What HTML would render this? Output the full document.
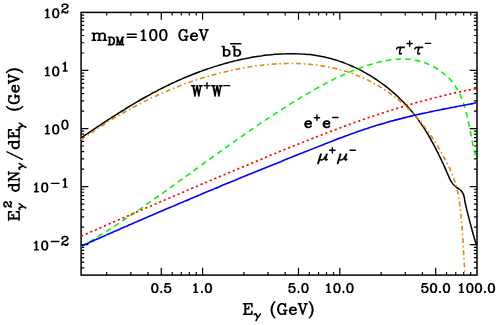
<!DOCTYPE html>
<html><head><meta charset="utf-8"><title>gamma-ray spectra</title>
<style>html,body{margin:0;padding:0;background:#fff;font-family:"Liberation Sans",sans-serif}svg{display:block}</style></head>
<body>
<svg width="498" height="325" viewBox="0 0 498 325">
<rect width="498" height="325" fill="#fff"/>
<defs>
<path id="g30" vector-effect="non-scaling-stroke" d="M11.5,-0.25 11.75,-0.25 12,-0.25 14,-1 16,-4 17,-9 17,-12 16,-17 14,-20 12,-20.75 12,-20.5 13,-20 14,-19 15,-17 16,-12 16,-9 15,-4 14,-2 13,-1 12,-0.5 12,-0.25M8.25,-0.25 8.5,-0.25M8.25,-0.25 8.25,-0.5 7,-1 6,-2 5,-4 4,-9 4,-12 5,-17 6,-19 7,-20 8.25,-20.5 8.25,-20.75 6,-20 4,-17 3,-12 3,-9 4,-4 6,-1 8.25,-0.25M12,-20.75 11.75,-20.75 11.5,-20.75M14,-20 11,-21 9,-21 7,-20M14,-1 11,0 13,-1M16,-12 15,-16.75 14,-19M13,-20 11,-21M8.25,-20.75 8.5,-20.75M7,-1 9,0 11,0M6,-1 9,0M6,-20 9,-21"/>
<path id="g31" vector-effect="non-scaling-stroke" d="M11,-21 11,0 10,0 10,-20 11,-21 8,-18 6,-17M11,0 15,0 6,0 10,0M10,-20 8,-18"/>
<path id="g32" vector-effect="non-scaling-stroke" d="M16,-1 17,-2.75 16.75,-2.75 16,-2 14,-1 11,-1 6.75,-2.75 6.5,-2.75 11,0 15,0 16,-1 17,-3 17,-5M11,0 6,-3 4,-3 3,-2 3,0 3,-3 4,-6 6,-8 12,-11 9.5,-9.75 9.5,-9.5 9.25,-9.5 9,-9.5M6.5,-2.75 6.25,-2.75M11,-1 6,-3M16,-2 17,-3M9.5,-9.5 13,-11 16,-13 17,-15 17,-17 16,-19 15,-20 13,-20.75 12.75,-20.5 14,-20 15,-19 16,-17 16,-15 15,-13 12,-11M15,-20 12,-21 8,-21 5,-20 4,-19 3,-17 3,-16 4,-15 5,-16 4,-17M13,-11 8.25,-9 6,-8M14,-20 12,-21M13,-20.75 12.75,-20.75 12.5,-20.75M3,-3 3,-2"/>
<path id="g35" vector-effect="non-scaling-stroke" d="M11.5,-0.25 11.75,-0.25 12,-0.25 14,-1 16,-3 17,-6 17,-8 16,-11 14,-13 12,-13.75 12,-13.5 13,-13 15,-11 16,-8 16,-6 15,-3 13,-1 12,-0.5 12,-0.25M12,-13.75 11.75,-13.75 11.5,-13.75M14,-13 11,-14 8,-14 5,-13 3,-11 5,-21 5,-20.75 3,-11.5 3,-11M14,-1 11,0 13,-1M13,-13 11,-14M11,0 8,0 5,-1 4,-2 3,-4 3,-5 4,-6 5,-5 4,-4M10,-20 14.5,-21 5,-21 15,-21 10,-20 5,-20"/>
<path id="g2e" vector-effect="non-scaling-stroke" d="M5,-2 6,-1 5,0 4,-1 5,-2"/>
<path id="g6d" vector-effect="non-scaling-stroke" d="M25,-13.75 27,-13 28,-11 28,0 27,0 27,-11 26,-13 25,-13.5 25,-13.75 24.75,-13.75 24.5,-13.75M27,-13 24,-14 22,-14 19,-13 17,-11 16,-13 14,-13.75 14,-13.5 15,-13 16,-11 16,0 17,0 17,-11M28,0 31,0 24,0 27,0M26,-13 24,-14M14,-13.75 13.75,-13.75 13.5,-13.75M16,-13 13,-14 11,-14 8,-13 6,-11 6,0 6,-14 5,-14 5,0 6,0 9,0 2,0 5,0M17,0 20,0 13,0 16,0M15,-13 13,-14M5,-14 2,-14 6,-14 6,-11"/>
<path id="g44" vector-effect="non-scaling-stroke" d="M12.5,-0.25 12.75,-0.25 13,-0.25 15,-1 17,-3 18,-5 19,-8 19,-13 18,-16 17,-18 15,-20 13,-20.75 13,-20.5 14,-20 16,-18 17,-16 18,-13 18,-8 17,-5 16,-3 14,-1 13,-0.5 13,-0.25M13,-20.75 12.75,-20.75 12.5,-20.75M15,-20 12,-21 6,-21 6,0 12,0 14,-1M15,-1 12,0 2,0 5,0 6,0M14,-20 12,-21 2,-21 5,-21 6,-21M5,-21 5,0"/>
<path id="g4d" vector-effect="non-scaling-stroke" d="M20,-21 19,-21 19,0 20,0 20,-21 23,-21 19,-21 12,0 5,-20.75 5,0 5,-21 2,-21 6,-21 5,-21 12,0 19,-20.75 19,0 16,0 23,0 20,0M6,-21 12,-3M5,0 2,0 8,0 5,0"/>
<path id="g3d" vector-effect="non-scaling-stroke" d="M4,-6 22,-6M4,-12 22,-12"/>
<path id="g47" vector-effect="non-scaling-stroke" d="M9.25,-0.25 9.5,-0.25M9.25,-0.25 9.25,-0.5 8,-1 6,-3 5,-5 4,-8 4,-13 5,-16 6,-18 8,-20 9.25,-20.5 9.25,-20.75 7,-20 5,-18 4,-16 3,-13 3,-8 4,-5 5,-3 7,-1 9.25,-0.25M17,-18 18,-15.25 18,-20.75 17,-18 15,-20 12,-21 10,-21 8,-20M17,-18 18,-15 18,-21 17,-18M9.25,-20.75 9.5,-20.75M8,-1 10,0 7,-1M7,-20 10,-21M10,0 12,0 15,-1 17,-3 17,0 17,-8 18,-8 18,0M17,-3 17,-8 14,-8 21,-8 18,-8"/>
<path id="g65" vector-effect="non-scaling-stroke" d="M8.25,-0.25 8.5,-0.25M8.25,-0.25 8.25,-0.5 7,-1 5,-3 4,-6 4,-8 5,-11 7,-13 8.25,-13.5 8.25,-13.75 6,-13 4,-11 3,-8 3,-6 4,-3 6,-1 8.25,-0.25M15,-12 14.25,-12.75 14,-12.75 15,-11 15,-8 16,-8 16,-10 15,-12 14,-13 12,-14 9,-14 7,-13M16,-8 4,-8 15,-8M15,-11 14,-13M8.25,-13.75 8.5,-13.75M7,-1 9,0 6,-1M6,-13 9,-14M9,0 11,0 14,-1 16,-3"/>
<path id="g56" vector-effect="non-scaling-stroke" d="M17,-21 13,-21 19,-21 17,-21 10,0 3,-21 4,-21 10,-3M3,-21 1,-21 7,-21 4,-21"/>
<path id="g45" vector-effect="non-scaling-stroke" d="M17,-21 18,-21 18,-15.5 17,-20.75 17,-21 6,-21 5,-21 5,0 6,0 6,-21 6,-11 6,0 17,0 18,0 18,-5.5 17,0 17,-0.25 18,-6 18,0 2,0 5,0M17,-20.75 18,-15 18,-21 2,-21 5,-21M6,-11 12,-11 12,-15"/>
<path id="g64" vector-effect="non-scaling-stroke" d="M8.25,-0.25 8.5,-0.25M8.25,-0.25 8.25,-0.5 7,-1 5,-3 4,-6 4,-8 5,-11 7,-13 8.25,-13.5 8.25,-13.75 6,-13 4,-11 3,-8 3,-6 4,-3 6,-1 8.25,-0.25M8.25,-13.75 8.5,-13.75M7,-13 9,-14 11,-14 13,-13 15,-11 15,-3 13,-1 11,0 9,0 7,-1M6,-1 9,0M6,-13 9,-14M15,-11 15,-21 16,-21 16,0 15,0 15,-21 12,-21 16,-21M15,-3 15,0 19,0 16,0"/>
<path id="g4e" vector-effect="non-scaling-stroke" d="M5,-21 2,-21 6,-21 5,-21 5,0 2,0 8,0 5,0M6,-21 18,-2 18,-0.25 18,0 6,-19M18,-2 18,-21 18,0M18,-21 21,-21 15,-21 18,-21"/>
<path id="g2f" vector-effect="non-scaling-stroke" d="M20,-25 2,7"/>
<path id="g28" vector-effect="non-scaling-stroke" d="M8.5,4.5 8.75,4.5M8.5,4 8.5,4.25M8.5,4 7,1 6,-2.25 5,-7 5,-11 6,-16 7,-19 8.5,-22.25 7,-20 5,-16 4,-11 4,-7 5,-2 7,2 8.5,4M7,-19 9,-23 11,-25M5,-7 6,-2 7,1 9,5 7,2M7,-20 9,-23M8.5,-22.5 8.75,-22.25 8.5,-22.25 8.5,-22.5 8.75,-22.5M9,5 11,7"/>
<path id="g29" vector-effect="non-scaling-stroke" d="M5.25,4.5 5.5,4.5M5.5,4 5.5,4.25M5.5,4 7,2 9,-2 10,-7 10,-11 9,-16 7,-20 5.5,-22.25 7,-19 8,-16 9,-11 9,-7 8,-2.25 7,1 5.5,4M7,-20 5,-23 3,-25M7,2 5,5 7,1 8,-2 9,-7M7,-19 5,-23M5,5 3,7M5.5,-22.25 5.5,-22.5 5.25,-22.5 5.5,-22.25"/>
<path id="g62" vector-effect="non-scaling-stroke" d="M12.5,-0.25 12.75,-0.25 13,-0.25 15,-1 17,-3 18,-6 18,-8 17,-11 15,-13 13,-13.75 13,-13.5 14,-13 16,-11 17,-8 17,-6 16,-3 14,-1 13,-0.5 13,-0.25M13,-13.75 12.75,-13.75 12.5,-13.75M15,-13 12,-14 10,-14 8,-13 6,-11 6,-3 8,-1 10,0 12,0 14,-1M15,-1 12,0M14,-13 12,-14M6,-3 6,0 6,-21 5,-21 2,-21 6,-21 6,-11M5,-21 5,0"/>
<path id="g57" vector-effect="non-scaling-stroke" d="M13,-21 16,-5M1,-21 4,-21 4,-20.75 8,0 12,-20.75 16,0 20,-20.75 20,-21 23,-21 17,-21 20,-21 16,0 12,-21 8,0 4,-21 5,-21 5,-20.75 8,-5 5,-21 8,-21 1,-21"/>
<path id="g2b" vector-effect="non-scaling-stroke" d="M13,-18 13,-9 4,-9M13,0 13,-9 22,-9"/>
<path id="g2d" vector-effect="non-scaling-stroke" d="M4,-9 22,-9"/>
<path id="g3c4" vector-effect="non-scaling-stroke" d="M2,-10 3,-12 5,-13.5 8,-14 20,-14M3,-12 5,-13 8,-13.3 20,-13.3M12,-14 10,-7 9,-3 9,-1 10,0 12,0 13.5,-1M11,-14 9,-3"/>
<path id="g3bc" vector-effect="non-scaling-stroke" d="M7,-14 1,9M8,-14 2,9M5.5,-5 5,-2.5 5.5,-1 7,0 9.5,0 12,-1 14.5,-3.5 17,-8.5M19.5,-14 17.5,-7 16.8,-3 17,-1 18,0 19.5,0 21,-1.5M20.5,-14 18,-4"/>
<path id="g3b3" vector-effect="non-scaling-stroke" d="M0,-10 1.5,-12 3.5,-13 5,-12.5 6.5,-10 8,-6 9.7,-1.7M2.5,-12.5 4.5,-12 6,-9 8.5,-3M17.2,-12.2 14,-7 9.7,-1.7 7,2.5 5,6.5M8,1 5.8,6.5"/>
<path id="g2044" vector-effect="non-scaling-stroke" d="M2,6.5 17.2,-24"/>
</defs>
<clipPath id="clip"><rect x="80.70" y="12.00" width="396.70" height="263.50"/></clipPath>
<rect x="81.10" y="12.40" width="395.90" height="262.70" fill="none" stroke="#000" stroke-width="1.5"/>
<path d="M106.70,275.10v-3.10M106.70,12.40v3.10M130.86,275.10v-3.10M130.86,12.40v3.10M148.00,275.10v-3.10M148.00,12.40v3.10M161.30,275.10v-7.30M161.30,12.40v7.30M172.16,275.10v-3.10M172.16,12.40v3.10M181.35,275.10v-3.10M181.35,12.40v3.10M189.30,275.10v-3.10M189.30,12.40v3.10M196.32,275.10v-3.10M196.32,12.40v3.10M202.60,275.10v-7.30M202.60,12.40v7.30M243.90,275.10v-3.10M243.90,12.40v3.10M268.06,275.10v-3.10M268.06,12.40v3.10M285.20,275.10v-3.10M285.20,12.40v3.10M298.50,275.10v-7.30M298.50,12.40v7.30M309.36,275.10v-3.10M309.36,12.40v3.10M318.55,275.10v-3.10M318.55,12.40v3.10M326.50,275.10v-3.10M326.50,12.40v3.10M333.52,275.10v-3.10M333.52,12.40v3.10M339.80,275.10v-7.30M339.80,12.40v7.30M381.10,275.10v-3.10M381.10,12.40v3.10M405.26,275.10v-3.10M405.26,12.40v3.10M422.40,275.10v-3.10M422.40,12.40v3.10M435.70,275.10v-7.30M435.70,12.40v7.30M446.56,275.10v-3.10M446.56,12.40v3.10M455.75,275.10v-3.10M455.75,12.40v3.10M463.70,275.10v-3.10M463.70,12.40v3.10M470.72,275.10v-3.10M470.72,12.40v3.10M81.10,267.79h3.10M477.00,267.79h-3.10M81.10,262.16h3.10M477.00,262.16h-3.10M81.10,257.56h3.10M477.00,257.56h-3.10M81.10,253.68h3.10M477.00,253.68h-3.10M81.10,250.31h3.10M477.00,250.31h-3.10M81.10,247.34h3.10M477.00,247.34h-3.10M81.10,244.68h7.30M477.00,244.68h-7.30M81.10,227.20h3.10M477.00,227.20h-3.10M81.10,216.97h3.10M477.00,216.97h-3.10M81.10,209.72h3.10M477.00,209.72h-3.10M81.10,204.09h3.10M477.00,204.09h-3.10M81.10,199.49h3.10M477.00,199.49h-3.10M81.10,195.61h3.10M477.00,195.61h-3.10M81.10,192.24h3.10M477.00,192.24h-3.10M81.10,189.27h3.10M477.00,189.27h-3.10M81.10,186.61h7.30M477.00,186.61h-7.30M81.10,169.13h3.10M477.00,169.13h-3.10M81.10,158.90h3.10M477.00,158.90h-3.10M81.10,151.65h3.10M477.00,151.65h-3.10M81.10,146.02h3.10M477.00,146.02h-3.10M81.10,141.42h3.10M477.00,141.42h-3.10M81.10,137.54h3.10M477.00,137.54h-3.10M81.10,134.17h3.10M477.00,134.17h-3.10M81.10,131.20h3.10M477.00,131.20h-3.10M81.10,128.54h7.30M477.00,128.54h-7.30M81.10,111.06h3.10M477.00,111.06h-3.10M81.10,100.83h3.10M477.00,100.83h-3.10M81.10,93.58h3.10M477.00,93.58h-3.10M81.10,87.95h3.10M477.00,87.95h-3.10M81.10,83.35h3.10M477.00,83.35h-3.10M81.10,79.47h3.10M477.00,79.47h-3.10M81.10,76.10h3.10M477.00,76.10h-3.10M81.10,73.13h3.10M477.00,73.13h-3.10M81.10,70.47h7.30M477.00,70.47h-7.30M81.10,52.99h3.10M477.00,52.99h-3.10M81.10,42.76h3.10M477.00,42.76h-3.10M81.10,35.51h3.10M477.00,35.51h-3.10M81.10,29.88h3.10M477.00,29.88h-3.10M81.10,25.28h3.10M477.00,25.28h-3.10M81.10,21.40h3.10M477.00,21.40h-3.10M81.10,18.03h3.10M477.00,18.03h-3.10M81.10,15.06h3.10M477.00,15.06h-3.10" stroke="#000" stroke-width="1.2" fill="none"/>
<g clip-path="url(#clip)"><path d="M81.1,137.9C81.7,137.5 83.4,136.4 84.5,135.6C85.6,134.8 86.7,134.1 87.9,133.3C89.0,132.5 90.1,131.8 91.3,131.0C92.4,130.3 93.5,129.5 94.7,128.7C95.8,128.0 96.9,127.2 98.1,126.5C99.2,125.7 100.3,125.0 101.5,124.2C102.6,123.5 103.7,122.7 104.9,122.0C106.0,121.2 107.2,120.5 108.3,119.7C109.4,119.0 110.6,118.3 111.7,117.5C112.9,116.8 114.0,116.1 115.1,115.3C116.3,114.6 117.4,113.9 118.6,113.1C119.7,112.4 120.9,111.7 122.0,111.0C123.2,110.3 124.3,109.6 125.5,108.8C126.6,108.1 127.8,107.4 128.9,106.7C130.1,106.0 131.2,105.3 132.4,104.6C133.6,103.9 134.7,103.2 135.9,102.6C137.1,101.9 138.2,101.2 139.4,100.5C140.6,99.8 141.7,99.2 142.9,98.5C144.1,97.8 145.2,97.2 146.4,96.5C147.6,95.9 148.8,95.2 150.0,94.6C151.1,93.9 152.3,93.3 153.5,92.6C154.7,92.0 155.9,91.4 157.1,90.8C158.3,90.1 159.5,89.5 160.7,88.9C161.9,88.3 163.1,87.7 164.3,87.1C165.5,86.5 166.7,85.9 167.9,85.3C169.1,84.7 170.3,84.2 171.5,83.6C172.8,83.0 174.0,82.4 175.2,81.9C176.4,81.3 177.7,80.8 178.9,80.2C180.1,79.7 181.3,79.1 182.6,78.6C183.8,78.1 185.1,77.5 186.3,77.0C187.6,76.5 188.8,76.0 190.1,75.5C191.3,75.0 192.6,74.5 193.8,74.0C195.1,73.5 196.4,73.0 197.6,72.5C198.9,72.0 200.2,71.6 201.5,71.1C202.7,70.6 204.0,70.2 205.3,69.7C206.6,69.3 207.9,68.8 209.2,68.4C210.5,67.9 211.8,67.5 213.1,67.1C214.4,66.7 215.7,66.3 217.0,65.9C218.3,65.5 219.6,65.1 220.9,64.7C222.2,64.3 223.6,63.9 224.9,63.5C226.2,63.2 227.5,62.8 228.9,62.4C230.2,62.1 231.5,61.7 232.8,61.4C234.2,61.1 235.5,60.8 236.8,60.4C238.2,60.1 239.5,59.8 240.9,59.5C242.2,59.2 243.5,58.9 244.9,58.7C246.2,58.4 247.6,58.1 248.9,57.9C250.3,57.6 251.6,57.4 253.0,57.1C254.3,56.9 255.7,56.7 257.0,56.5C258.4,56.3 259.7,56.0 261.1,55.9C262.4,55.7 263.8,55.5 265.1,55.3C266.5,55.2 267.8,55.0 269.2,54.9C270.5,54.7 271.9,54.6 273.3,54.5C274.6,54.4 276.0,54.3 277.3,54.2C278.7,54.1 280.0,54.0 281.4,53.9C282.7,53.8 284.1,53.8 285.4,53.8C286.8,53.7 288.1,53.7 289.5,53.7C290.8,53.7 292.2,53.7 293.5,53.7C294.9,53.7 296.2,53.7 297.6,53.8C298.9,53.8 300.2,53.9 301.6,54.0C302.9,54.0 304.3,54.1 305.6,54.2C306.9,54.3 308.3,54.5 309.6,54.6C310.9,54.8 312.3,54.9 313.6,55.1C314.9,55.3 316.2,55.5 317.6,55.7C318.9,55.9 320.2,56.2 321.5,56.4C322.8,56.7 324.1,57.0 325.4,57.3C326.7,57.6 328.1,57.9 329.4,58.2C330.7,58.5 331.9,58.9 333.2,59.3C334.5,59.6 335.8,60.0 337.1,60.4C338.4,60.9 339.7,61.3 340.9,61.7C342.2,62.2 343.5,62.6 344.7,63.1C346.0,63.6 347.3,64.1 348.5,64.6C349.8,65.1 351.0,65.7 352.2,66.2C353.5,66.8 354.7,67.3 355.9,67.9C357.2,68.5 358.4,69.1 359.6,69.7C360.8,70.3 362.0,71.0 363.2,71.6C364.4,72.3 365.6,72.9 366.8,73.6C368.0,74.3 369.1,75.0 370.3,75.7C371.5,76.4 372.6,77.1 373.8,77.9C374.9,78.6 376.1,79.4 377.2,80.1C378.3,80.9 379.4,81.7 380.5,82.5C381.7,83.3 382.8,84.1 383.9,84.9C384.9,85.7 386.0,86.5 387.1,87.4C388.2,88.2 389.2,89.1 390.3,90.0C391.3,90.8 392.4,91.7 393.4,92.6C394.4,93.5 395.4,94.4 396.5,95.4C397.5,96.3 398.5,97.2 399.4,98.2C400.4,99.1 401.4,100.1 402.3,101.0C403.3,102.0 404.3,103.0 405.2,104.0C406.1,105.0 407.0,106.0 407.9,107.0C408.9,108.0 409.8,109.0 410.6,110.0C411.5,111.1 412.4,112.1 413.2,113.2C414.1,114.2 414.9,115.3 415.8,116.3C416.6,117.4 417.4,118.5 418.2,119.6C419.0,120.7 419.8,121.8 420.5,122.9C421.3,124.0 422.0,125.1 422.8,126.2C423.5,127.3 424.3,128.5 425.0,129.6C425.7,130.7 426.4,131.9 427.1,133.0C427.8,134.2 428.5,135.3 429.1,136.5C429.8,137.7 430.5,138.8 431.1,140.0C431.8,141.2 432.4,142.4 433.1,143.6C433.7,144.8 434.4,146.0 435.0,147.2C435.6,148.4 436.2,149.6 436.8,150.8C437.4,152.0 438.1,153.2 438.7,154.5C439.3,155.7 439.9,156.9 440.5,158.1C441.1,159.4 441.6,160.6 442.2,161.9C442.8,163.1 443.0,163.4 444.0,165.6C445.0,167.8 447.0,172.5 448.0,174.8C449.0,177.1 449.2,177.9 450.0,179.4C450.8,180.9 451.7,182.5 452.8,183.9C453.9,185.3 455.5,186.5 456.9,187.6C458.2,188.7 459.8,189.3 460.9,190.4C462.0,191.5 462.7,192.8 463.3,194.1C463.9,195.4 464.1,196.8 464.5,198.5C464.9,200.2 464.3,199.2 465.5,204.3C466.7,209.4 469.9,221.9 471.7,228.8C473.5,235.7 475.7,242.7 476.5,245.5" fill="none" stroke="#000" stroke-width="1.5"/><path d="M81.1,139.7C81.7,139.3 83.3,138.1 84.4,137.4C85.6,136.6 86.7,135.8 87.8,135.0C88.9,134.3 90.1,133.5 91.2,132.8C92.3,132.0 93.4,131.2 94.6,130.5C95.7,129.8 96.8,129.0 98.0,128.3C99.1,127.5 100.2,126.8 101.4,126.1C102.5,125.3 103.7,124.6 104.8,123.9C106.0,123.2 107.1,122.5 108.3,121.7C109.4,121.0 110.6,120.3 111.7,119.6C112.9,118.9 114.0,118.2 115.2,117.5C116.3,116.8 117.5,116.2 118.7,115.5C119.8,114.8 121.0,114.1 122.2,113.5C123.3,112.8 124.5,112.1 125.7,111.5C126.8,110.8 128.0,110.1 129.2,109.5C130.4,108.9 131.5,108.2 132.7,107.6C133.9,106.9 135.1,106.3 136.3,105.7C137.5,105.1 138.7,104.4 139.9,103.8C141.0,103.2 142.2,102.6 143.4,102.0C144.6,101.4 145.8,100.8 147.0,100.2C148.2,99.6 149.4,99.0 150.6,98.4C151.9,97.9 153.1,97.3 154.3,96.7C155.5,96.2 156.7,95.6 157.9,95.0C159.1,94.5 160.4,93.9 161.6,93.4C162.8,92.8 164.0,92.3 165.3,91.8C166.5,91.3 167.7,90.7 169.0,90.2C170.2,89.7 171.4,89.2 172.7,88.7C173.9,88.2 175.1,87.7 176.4,87.2C177.6,86.7 178.9,86.2 180.1,85.7C181.4,85.3 182.6,84.8 183.9,84.3C185.2,83.8 186.4,83.4 187.7,82.9C188.9,82.5 190.2,82.0 191.5,81.6C192.7,81.2 194.0,80.7 195.3,80.3C196.6,79.9 197.8,79.5 199.1,79.1C200.4,78.6 201.7,78.2 203.0,77.8C204.3,77.4 205.5,77.1 206.8,76.7C208.1,76.3 209.4,75.9 210.7,75.5C212.0,75.2 213.3,74.8 214.6,74.5C215.9,74.1 217.2,73.8 218.5,73.4C219.9,73.1 221.2,72.7 222.5,72.4C223.8,72.1 225.1,71.8 226.5,71.5C227.8,71.1 229.1,70.8 230.4,70.5C231.8,70.2 233.1,70.0 234.4,69.7C235.8,69.4 237.1,69.1 238.4,68.9C239.8,68.6 241.1,68.3 242.5,68.1C243.8,67.8 245.1,67.6 246.5,67.4C247.8,67.2 249.2,66.9 250.5,66.7C251.9,66.5 253.2,66.3 254.6,66.1C255.9,65.9 257.3,65.7 258.6,65.6C260.0,65.4 261.3,65.2 262.7,65.1C264.0,64.9 265.4,64.8 266.8,64.7C268.1,64.5 269.5,64.4 270.8,64.3C272.2,64.2 273.5,64.1 274.9,64.0C276.3,63.9 277.6,63.8 279.0,63.8C280.3,63.7 281.7,63.6 283.0,63.6C284.4,63.6 285.7,63.5 287.1,63.5C288.4,63.5 289.8,63.5 291.1,63.5C292.5,63.5 293.9,63.5 295.2,63.5C296.5,63.6 297.9,63.6 299.2,63.6C300.6,63.7 301.9,63.8 303.3,63.8C304.6,63.9 306.0,64.0 307.3,64.1C308.6,64.2 310.0,64.4 311.3,64.5C312.6,64.6 314.0,64.8 315.3,64.9C316.6,65.1 318.0,65.3 319.3,65.5C320.6,65.6 321.9,65.8 323.2,66.1C324.6,66.3 325.9,66.5 327.2,66.8C328.5,67.0 329.8,67.3 331.1,67.5C332.4,67.8 333.7,68.1 335.0,68.4C336.3,68.7 337.6,69.0 338.9,69.4C340.2,69.7 341.5,70.1 342.7,70.4C344.0,70.8 345.3,71.2 346.6,71.6C347.8,72.0 349.1,72.4 350.4,72.9C351.6,73.3 352.9,73.7 354.1,74.2C355.4,74.7 356.6,75.2 357.9,75.7C359.1,76.2 360.4,76.7 361.6,77.2C362.8,77.8 364.1,78.3 365.3,78.9C366.5,79.5 367.7,80.0 368.9,80.7C370.1,81.3 371.3,81.9 372.5,82.5C373.7,83.2 374.9,83.8 376.1,84.5C377.2,85.1 378.4,85.8 379.6,86.5C380.7,87.2 381.9,87.9 383.0,88.7C384.2,89.4 385.3,90.1 386.4,90.9C387.6,91.7 388.7,92.4 389.8,93.2C390.9,94.0 392.0,94.8 393.1,95.6C394.2,96.5 395.2,97.3 396.3,98.1C397.4,99.0 398.4,99.8 399.5,100.7C400.5,101.6 401.5,102.4 402.5,103.3C403.6,104.2 404.6,105.1 405.5,106.1C406.5,107.0 407.5,107.9 408.5,108.8C409.4,109.8 410.4,110.7 411.3,111.7C412.3,112.7 413.2,113.6 414.1,114.6C415.0,115.6 416.0,116.6 416.8,117.6C417.7,118.6 418.6,119.6 419.5,120.7C420.4,121.7 421.2,122.7 422.1,123.8C422.9,124.8 423.7,125.9 424.6,126.9C425.4,128.0 426.2,129.1 427.0,130.2C427.8,131.2 428.6,132.3 429.3,133.4C430.1,134.5 430.9,135.6 431.6,136.7C432.4,137.9 433.1,139.0 433.9,140.1C434.6,141.2 435.3,142.4 436.0,143.5C436.7,144.7 437.5,145.8 438.1,147.0C438.8,148.1 439.5,149.3 440.2,150.5C440.9,151.6 441.5,152.8 442.2,154.0C442.9,155.2 443.5,156.4 444.1,157.5C444.8,158.7 445.4,159.9 446.0,161.1C446.7,162.3 447.3,163.5 447.9,164.8C448.5,166.0 448.7,166.2 449.7,168.4C450.7,170.6 452.7,175.6 453.6,177.8C454.5,180.0 454.5,180.3 454.9,181.6C455.4,183.0 455.7,184.3 456.1,185.6C456.5,186.9 456.8,188.2 457.1,189.5C457.4,190.8 457.7,192.2 458.0,193.5C458.2,194.8 458.5,196.2 458.7,197.5C458.9,198.8 459.2,200.2 459.4,201.5C459.6,202.9 459.7,204.2 459.9,205.5C460.1,206.9 460.2,208.2 460.4,209.6C460.6,211.0 460.7,212.3 460.8,213.7C461.0,215.0 461.1,216.4 461.2,217.8C461.4,219.1 461.5,220.5 461.6,221.8C461.7,223.2 461.8,224.6 461.9,226.0C462.1,227.3 462.2,228.7 462.3,230.1C462.4,231.4 462.4,232.8 462.5,234.2C462.6,235.5 462.7,236.9 462.8,238.3C462.9,239.7 463.0,241.0 463.1,242.4C463.1,243.8 463.2,245.2 463.3,246.5C463.4,247.9 463.5,249.3 463.5,250.6C463.6,252.0 463.7,253.4 463.8,254.7C463.8,256.1 463.9,257.5 464.0,258.8C464.1,260.2 464.1,261.6 464.2,262.9C464.3,264.3 464.4,265.6 464.5,267.0C464.6,268.4 464.6,269.7 464.7,271.1C464.8,272.4 465.0,274.4 465.0,275.1" fill="none" stroke="#e6860c" stroke-width="1.6" stroke-dasharray="4.9 2.9 1.5 2.9"/><path d="M81.1,246.8C81.7,246.5 83.4,245.4 84.6,244.7C85.8,244.0 86.9,243.4 88.1,242.7C89.2,242.0 90.4,241.3 91.5,240.6C92.7,239.9 93.9,239.2 95.0,238.4C96.2,237.7 97.3,237.0 98.5,236.3C99.6,235.6 100.8,234.9 101.9,234.2C103.0,233.4 104.2,232.7 105.3,232.0C106.5,231.3 107.6,230.5 108.7,229.8C109.9,229.1 111.0,228.3 112.2,227.6C113.3,226.9 114.4,226.1 115.6,225.4C116.7,224.7 117.8,223.9 118.9,223.2C120.1,222.4 121.2,221.7 122.3,220.9C123.5,220.2 124.6,219.4 125.7,218.7C126.8,217.9 128.0,217.2 129.1,216.4C130.2,215.7 131.3,214.9 132.4,214.1C133.6,213.4 134.7,212.6 135.8,211.9C136.9,211.1 138.0,210.3 139.1,209.6C140.2,208.8 141.4,208.0 142.5,207.3C143.6,206.5 144.7,205.7 145.8,204.9C146.9,204.2 148.0,203.4 149.1,202.6C150.2,201.8 151.4,201.1 152.5,200.3C153.6,199.5 154.7,198.7 155.8,198.0C156.9,197.2 158.0,196.4 159.1,195.6C160.2,194.8 161.3,194.0 162.4,193.3C163.5,192.5 164.6,191.7 165.7,190.9C166.8,190.1 167.9,189.3 169.0,188.5C170.1,187.7 171.2,187.0 172.3,186.2C173.4,185.4 174.5,184.6 175.6,183.8C176.7,183.0 177.8,182.2 178.9,181.4C180.0,180.6 181.1,179.8 182.2,179.0C183.3,178.2 184.4,177.5 185.5,176.7C186.6,175.9 187.7,175.1 188.8,174.3C189.9,173.5 191.0,172.7 192.1,171.9C193.2,171.1 194.3,170.3 195.4,169.5C196.5,168.7 197.6,167.9 198.7,167.1C199.8,166.3 200.9,165.5 202.0,164.7C203.0,164.0 204.1,163.2 205.2,162.4C206.3,161.6 207.4,160.8 208.5,160.0C209.6,159.2 210.7,158.4 211.8,157.6C212.9,156.8 214.0,156.0 215.1,155.2C216.2,154.4 217.3,153.7 218.4,152.9C219.5,152.1 220.6,151.3 221.7,150.5C222.8,149.7 223.9,148.9 225.0,148.1C226.1,147.4 227.2,146.6 228.3,145.8C229.4,145.0 230.5,144.2 231.6,143.4C232.7,142.7 233.8,141.9 234.9,141.1C236.1,140.3 237.2,139.5 238.3,138.8C239.4,138.0 240.5,137.2 241.6,136.4C242.7,135.7 243.8,134.9 244.9,134.1C246.0,133.3 247.1,132.6 248.2,131.8C249.4,131.0 250.5,130.3 251.6,129.5C252.7,128.7 253.8,128.0 254.9,127.2C256.0,126.4 257.2,125.7 258.3,124.9C259.4,124.2 260.5,123.4 261.6,122.6C262.8,121.9 263.9,121.1 265.0,120.4C266.1,119.6 267.2,118.9 268.4,118.1C269.5,117.4 270.6,116.7 271.8,115.9C272.9,115.2 274.0,114.4 275.1,113.7C276.3,113.0 277.4,112.2 278.5,111.5C279.7,110.7 280.8,110.0 281.9,109.3C283.1,108.6 284.2,107.8 285.4,107.1C286.5,106.4 287.6,105.7 288.8,105.0C289.9,104.2 291.1,103.5 292.2,102.8C293.4,102.1 294.5,101.4 295.7,100.7C296.8,100.0 298.0,99.3 299.1,98.6C300.3,97.9 301.4,97.2 302.6,96.5C303.7,95.8 304.9,95.1 306.1,94.4C307.2,93.7 308.4,93.0 309.6,92.4C310.7,91.7 311.9,91.0 313.1,90.3C314.2,89.7 315.4,89.0 316.6,88.4C317.8,87.7 319.0,87.0 320.2,86.4C321.3,85.8 322.5,85.1 323.7,84.5C324.9,83.8 326.1,83.2 327.3,82.6C328.5,82.0 329.7,81.3 330.9,80.7C332.1,80.1 333.3,79.5 334.6,78.9C335.8,78.3 337.0,77.7 338.2,77.2C339.5,76.6 340.7,76.0 341.9,75.5C343.2,74.9 344.4,74.3 345.7,73.8C346.9,73.2 348.2,72.7 349.4,72.2C350.7,71.6 351.9,71.1 353.2,70.6C354.5,70.1 355.8,69.6 357.0,69.1C358.3,68.6 359.6,68.1 360.9,67.7C362.2,67.2 363.5,66.7 364.8,66.3C366.1,65.9 367.4,65.4 368.7,65.0C370.0,64.6 371.4,64.2 372.7,63.8C374.0,63.4 375.3,63.1 376.7,62.7C378.0,62.4 379.3,62.1 380.6,61.8C382.0,61.5 383.3,61.2 384.6,60.9C386.0,60.7 387.3,60.4 388.6,60.2C390.0,60.0 391.3,59.8 392.6,59.7C394.0,59.5 395.3,59.4 396.6,59.3C398.0,59.2 399.3,59.1 400.6,59.1C402.0,59.1 403.3,59.1 404.6,59.1C405.9,59.2 407.2,59.2 408.5,59.3C409.9,59.4 411.2,59.6 412.5,59.8C413.8,59.9 415.1,60.2 416.4,60.4C417.7,60.7 418.9,61.0 420.2,61.3C421.5,61.7 422.8,62.1 424.0,62.5C425.3,62.9 426.6,63.4 427.8,63.9C429.1,64.4 430.3,65.0 431.5,65.6C432.7,66.2 433.9,66.9 435.1,67.5C436.3,68.2 437.5,68.9 438.6,69.7C439.7,70.4 440.9,71.2 441.9,72.1C443.0,72.9 444.1,73.7 445.1,74.6C446.2,75.5 447.2,76.4 448.1,77.4C449.1,78.3 450.0,79.3 450.9,80.3C451.8,81.3 452.6,82.4 453.4,83.4C454.3,84.5 455.0,85.6 455.7,86.7C456.5,87.8 457.1,88.9 457.8,90.1C458.4,91.2 459.0,92.4 459.6,93.6C460.2,94.8 460.7,96.0 461.2,97.2C461.8,98.5 462.2,99.7 462.7,101.0C463.2,102.2 463.6,103.5 464.0,104.8C464.4,106.1 464.8,107.4 465.2,108.7C465.6,110.0 465.9,111.3 466.3,112.7C466.6,114.0 466.9,115.3 467.2,116.7C467.6,118.0 467.9,119.4 468.2,120.7C468.4,122.1 468.7,123.4 469.0,124.8C469.3,126.2 469.6,127.5 469.8,128.9C470.1,130.2 470.4,131.6 470.6,133.0C470.9,134.3 471.1,135.7 471.4,137.0C471.7,138.4 471.9,139.8 472.2,141.1C472.5,142.4 472.8,143.8 473.0,145.1C473.3,146.4 473.6,147.8 473.9,149.1C474.2,150.4 474.5,151.7 474.9,153.0C475.2,154.2 475.5,155.5 475.9,156.8C476.2,158.0 476.8,159.9 477.0,160.5" fill="none" stroke="#00f800" stroke-width="1.6" stroke-dasharray="5.6 4.1"/><path d="M81.1,236.2C81.7,235.9 83.6,235.1 84.8,234.6C86.1,234.0 87.3,233.5 88.6,232.9C89.8,232.4 91.1,231.8 92.3,231.3C93.6,230.8 94.8,230.2 96.1,229.7C97.3,229.1 98.6,228.6 99.8,228.0C101.1,227.5 102.3,226.9 103.6,226.4C104.8,225.9 106.1,225.3 107.3,224.8C108.6,224.2 109.8,223.7 111.0,223.2C112.3,222.6 113.5,222.1 114.8,221.5C116.0,221.0 117.3,220.5 118.5,219.9C119.8,219.4 121.0,218.8 122.3,218.3C123.5,217.8 124.8,217.2 126.0,216.7C127.2,216.1 128.5,215.6 129.7,215.1C131.0,214.5 132.2,214.0 133.5,213.4C134.7,212.9 136.0,212.4 137.2,211.8C138.5,211.3 139.7,210.8 140.9,210.2C142.2,209.7 143.4,209.1 144.7,208.6C145.9,208.1 147.2,207.5 148.4,207.0C149.7,206.5 150.9,205.9 152.1,205.4C153.4,204.8 154.6,204.3 155.9,203.8C157.1,203.2 158.4,202.7 159.6,202.2C160.9,201.6 162.1,201.1 163.3,200.6C164.6,200.0 165.8,199.5 167.1,199.0C168.3,198.4 169.6,197.9 170.8,197.4C172.1,196.8 173.3,196.3 174.5,195.8C175.8,195.2 177.0,194.7 178.3,194.2C179.5,193.6 180.8,193.1 182.0,192.6C183.3,192.0 184.5,191.5 185.8,191.0C187.0,190.4 188.2,189.9 189.5,189.4C190.7,188.9 192.0,188.3 193.2,187.8C194.5,187.3 195.7,186.7 197.0,186.2C198.2,185.7 199.5,185.1 200.7,184.6C202.0,184.1 203.2,183.6 204.4,183.0C205.7,182.5 206.9,182.0 208.2,181.4C209.4,180.9 210.7,180.4 211.9,179.9C213.2,179.3 214.4,178.8 215.7,178.3C216.9,177.8 218.2,177.2 219.4,176.7C220.7,176.2 221.9,175.6 223.2,175.1C224.4,174.6 225.7,174.1 226.9,173.5C228.2,173.0 229.4,172.5 230.7,172.0C231.9,171.4 233.2,170.9 234.4,170.4C235.7,169.9 236.9,169.3 238.2,168.8C239.4,168.3 240.7,167.8 241.9,167.2C243.2,166.7 244.4,166.2 245.7,165.7C246.9,165.2 248.2,164.6 249.4,164.1C250.7,163.6 251.9,163.1 253.2,162.5C254.4,162.0 255.7,161.5 256.9,161.0C258.2,160.5 259.4,159.9 260.7,159.4C262.0,158.9 263.2,158.4 264.5,157.9C265.7,157.3 267.0,156.8 268.2,156.3C269.5,155.8 270.7,155.3 272.0,154.7C273.3,154.2 274.5,153.7 275.8,153.2C277.0,152.7 278.3,152.2 279.5,151.6C280.8,151.1 282.1,150.6 283.3,150.1C284.6,149.6 285.8,149.1 287.1,148.6C288.4,148.0 289.6,147.5 290.9,147.0C292.1,146.5 293.4,146.0 294.7,145.5C295.9,145.0 297.2,144.5 298.4,144.0C299.7,143.5 301.0,143.0 302.2,142.5C303.5,142.0 304.8,141.5 306.0,141.0C307.3,140.5 308.6,140.0 309.8,139.5C311.1,139.0 312.4,138.5 313.6,138.0C314.9,137.5 316.2,137.0 317.4,136.5C318.7,136.0 320.0,135.5 321.2,135.0C322.5,134.5 323.8,134.0 325.0,133.5C326.3,133.1 327.6,132.6 328.9,132.1C330.1,131.6 331.4,131.1 332.7,130.6C333.9,130.2 335.2,129.7 336.5,129.2C337.8,128.7 339.0,128.3 340.3,127.8C341.6,127.3 342.9,126.8 344.1,126.4C345.4,125.9 346.7,125.4 348.0,125.0C349.2,124.5 350.5,124.0 351.8,123.6C353.1,123.1 354.4,122.7 355.6,122.2C356.9,121.8 358.2,121.3 359.5,120.9C360.8,120.4 362.0,120.0 363.3,119.5C364.6,119.1 365.9,118.6 367.2,118.2C368.5,117.7 369.7,117.3 371.0,116.9C372.3,116.4 373.6,116.0 374.9,115.6C376.2,115.1 377.5,114.7 378.8,114.3C380.0,113.8 381.3,113.4 382.6,113.0C383.9,112.6 385.2,112.2 386.5,111.7C387.8,111.3 389.1,110.9 390.4,110.5C391.7,110.1 393.0,109.7 394.3,109.3C395.5,108.9 396.8,108.5 398.1,108.1C399.4,107.7 400.7,107.3 402.0,106.9C403.3,106.5 404.6,106.1 405.9,105.7C407.2,105.3 408.5,105.0 409.8,104.6C411.1,104.2 412.4,103.8 413.7,103.4C415.0,103.1 416.3,102.7 417.6,102.3C419.0,102.0 420.3,101.6 421.6,101.2C422.9,100.9 424.2,100.5 425.5,100.2C426.8,99.8 428.1,99.5 429.4,99.1C430.7,98.8 432.0,98.4 433.3,98.1C434.7,97.8 436.0,97.4 437.3,97.1C438.6,96.8 439.9,96.4 441.2,96.1C442.5,95.8 443.9,95.5 445.2,95.2C446.5,94.9 447.8,94.5 449.1,94.2C450.5,93.9 451.8,93.6 453.1,93.3C454.4,93.0 455.7,92.7 457.1,92.4C458.4,92.1 459.7,91.9 461.0,91.6C462.4,91.3 463.7,91.0 465.0,90.7C466.3,90.5 467.7,90.2 469.0,89.9C470.3,89.7 471.7,89.4 473.0,89.2C474.3,88.9 476.3,88.5 477.0,88.4" fill="none" stroke="#ff0000" stroke-width="1.65" stroke-dasharray="2.2 2.8"/><path d="M81.1,246.2C81.7,245.9 83.6,245.1 84.8,244.5C86.1,244.0 87.3,243.4 88.6,242.9C89.8,242.3 91.1,241.8 92.3,241.2C93.5,240.7 94.8,240.1 96.0,239.6C97.3,239.0 98.5,238.5 99.8,237.9C101.0,237.4 102.2,236.8 103.5,236.3C104.7,235.7 106.0,235.2 107.2,234.6C108.5,234.1 109.7,233.5 110.9,233.0C112.2,232.4 113.4,231.9 114.7,231.3C115.9,230.8 117.1,230.3 118.4,229.7C119.6,229.2 120.9,228.6 122.1,228.1C123.3,227.5 124.6,227.0 125.8,226.5C127.1,225.9 128.3,225.4 129.6,224.8C130.8,224.3 132.0,223.8 133.3,223.2C134.5,222.7 135.8,222.2 137.0,221.6C138.2,221.1 139.5,220.5 140.7,220.0C141.9,219.5 143.2,218.9 144.4,218.4C145.7,217.9 146.9,217.3 148.1,216.8C149.4,216.3 150.6,215.7 151.9,215.2C153.1,214.7 154.3,214.1 155.6,213.6C156.8,213.1 158.1,212.5 159.3,212.0C160.5,211.5 161.8,210.9 163.0,210.4C164.3,209.9 165.5,209.4 166.7,208.8C168.0,208.3 169.2,207.8 170.5,207.2C171.7,206.7 172.9,206.2 174.2,205.7C175.4,205.1 176.7,204.6 177.9,204.1C179.1,203.6 180.4,203.0 181.6,202.5C182.8,202.0 184.1,201.5 185.3,200.9C186.6,200.4 187.8,199.9 189.0,199.4C190.3,198.8 191.5,198.3 192.8,197.8C194.0,197.3 195.3,196.8 196.5,196.2C197.7,195.7 199.0,195.2 200.2,194.7C201.5,194.1 202.7,193.6 203.9,193.1C205.2,192.6 206.4,192.1 207.7,191.6C208.9,191.0 210.1,190.5 211.4,190.0C212.6,189.5 213.9,189.0 215.1,188.4C216.4,187.9 217.6,187.4 218.8,186.9C220.1,186.4 221.3,185.9 222.6,185.3C223.8,184.8 225.1,184.3 226.3,183.8C227.6,183.3 228.8,182.8 230.0,182.3C231.3,181.7 232.5,181.2 233.8,180.7C235.0,180.2 236.3,179.7 237.5,179.2C238.8,178.7 240.0,178.2 241.3,177.6C242.5,177.1 243.7,176.6 245.0,176.1C246.2,175.6 247.5,175.1 248.7,174.6C250.0,174.1 251.2,173.6 252.5,173.0C253.7,172.5 255.0,172.0 256.2,171.5C257.5,171.0 258.7,170.5 260.0,170.0C261.2,169.5 262.5,169.0 263.7,168.5C265.0,168.0 266.2,167.4 267.5,166.9C268.7,166.4 270.0,165.9 271.2,165.4C272.5,164.9 273.7,164.4 275.0,163.9C276.3,163.4 277.5,162.9 278.8,162.4C280.0,161.9 281.3,161.4 282.5,160.9C283.8,160.4 285.0,159.8 286.3,159.3C287.6,158.8 288.8,158.3 290.1,157.8C291.3,157.3 292.6,156.8 293.8,156.3C295.1,155.8 296.4,155.3 297.6,154.8C298.9,154.3 300.1,153.8 301.4,153.3C302.7,152.8 303.9,152.3 305.2,151.8C306.5,151.3 307.7,150.8 309.0,150.3C310.2,149.8 311.5,149.3 312.8,148.8C314.0,148.3 315.3,147.8 316.6,147.3C317.8,146.8 319.1,146.3 320.4,145.8C321.6,145.2 322.9,144.7 324.2,144.2C325.4,143.8 326.7,143.3 328.0,142.8C329.2,142.3 330.5,141.8 331.8,141.3C333.1,140.8 334.3,140.3 335.6,139.8C336.9,139.3 338.2,138.8 339.4,138.3C340.7,137.9 342.0,137.4 343.2,136.9C344.5,136.4 345.8,135.9 347.1,135.5C348.4,135.0 349.6,134.5 350.9,134.1C352.2,133.6 353.5,133.1 354.7,132.7C356.0,132.2 357.3,131.8 358.6,131.3C359.9,130.9 361.2,130.4 362.4,130.0C363.7,129.6 365.0,129.1 366.3,128.7C367.6,128.3 368.9,127.9 370.1,127.4C371.4,127.0 372.7,126.6 374.0,126.2C375.3,125.8 376.6,125.4 377.9,125.0C379.2,124.6 380.5,124.2 381.8,123.9C383.0,123.5 384.3,123.1 385.6,122.7C386.9,122.4 388.2,122.0 389.5,121.6C390.8,121.3 392.1,120.9 393.4,120.6C394.7,120.2 396.0,119.9 397.3,119.6C398.6,119.2 399.9,118.9 401.2,118.6C402.5,118.2 403.8,117.9 405.1,117.6C406.4,117.3 407.7,117.0 409.0,116.6C410.3,116.3 411.6,116.0 412.9,115.7C414.2,115.4 415.5,115.1 416.9,114.8C418.2,114.5 419.5,114.2 420.8,113.9C422.1,113.6 423.4,113.3 424.7,113.1C426.0,112.8 427.3,112.5 428.7,112.2C430.0,111.9 431.3,111.6 432.6,111.4C433.9,111.1 435.2,110.8 436.6,110.5C437.9,110.3 439.2,110.0 440.5,109.7C441.9,109.5 443.2,109.2 444.5,108.9C445.8,108.7 447.1,108.4 448.5,108.2C449.8,107.9 451.1,107.6 452.5,107.4C453.8,107.1 455.1,106.9 456.4,106.6C457.8,106.3 459.1,106.1 460.4,105.8C461.8,105.6 463.1,105.3 464.4,105.1C465.8,104.8 467.1,104.6 468.5,104.3C469.8,104.1 471.1,103.8 472.5,103.6C473.8,103.3 475.8,102.9 476.5,102.8" fill="none" stroke="#0000ff" stroke-width="1.6"/></g>
<g fill="none" stroke="#000" stroke-linecap="round" stroke-linejoin="round"><g transform="translate(150.53,292.40) scale(0.4295,0.4150)" stroke-width="1.40"><use href="#g30" x="0"/><use href="#g2e" x="20.06"/><use href="#g35" x="30.12"/></g><g transform="translate(191.19,292.40) scale(0.4295,0.4150)" stroke-width="1.40"><use href="#g31" x="0"/><use href="#g2e" x="20.06"/><use href="#g30" x="30.12"/></g><g transform="translate(287.73,292.40) scale(0.4295,0.4150)" stroke-width="1.40"><use href="#g35" x="0"/><use href="#g2e" x="20.06"/><use href="#g30" x="30.12"/></g><g transform="translate(324.08,292.40) scale(0.4295,0.4150)" stroke-width="1.40"><use href="#g31" x="0"/><use href="#g30" x="20.06"/><use href="#g2e" x="40.12"/><use href="#g30" x="50.19"/></g><g transform="translate(420.63,292.40) scale(0.4295,0.4150)" stroke-width="1.40"><use href="#g35" x="0"/><use href="#g30" x="20.06"/><use href="#g2e" x="40.12"/><use href="#g30" x="50.19"/></g><g transform="translate(456.97,292.40) scale(0.4295,0.4150)" stroke-width="1.40"><use href="#g31" x="0"/><use href="#g30" x="20.06"/><use href="#g30" x="40.12"/><use href="#g2e" x="60.19"/><use href="#g30" x="70.25"/></g><g transform="translate(60.71,12.90) scale(0.4233,0.4150)" stroke-width="1.40"><use href="#g32" x="0"/></g><g transform="translate(43.02,17.60) scale(0.4233,0.4150)" stroke-width="1.40"><use href="#g31" x="0"/><use href="#g30" x="20.06"/></g><g transform="translate(60.71,70.97) scale(0.4233,0.4150)" stroke-width="1.40"><use href="#g31" x="0"/></g><g transform="translate(43.02,75.67) scale(0.4233,0.4150)" stroke-width="1.40"><use href="#g31" x="0"/><use href="#g30" x="20.06"/></g><g transform="translate(60.71,129.04) scale(0.4233,0.4150)" stroke-width="1.40"><use href="#g30" x="0"/></g><g transform="translate(43.02,133.74) scale(0.4233,0.4150)" stroke-width="1.40"><use href="#g31" x="0"/><use href="#g30" x="20.06"/></g><g transform="translate(49.68,187.11) scale(0.4233,0.4150)" stroke-width="1.40"><use href="#g2d" x="0"/><use href="#g31" x="26.06"/></g><g transform="translate(31.99,191.81) scale(0.4233,0.4150)" stroke-width="1.40"><use href="#g31" x="0"/><use href="#g30" x="20.06"/></g><g transform="translate(49.68,245.18) scale(0.4233,0.4150)" stroke-width="1.40"><use href="#g2d" x="0"/><use href="#g32" x="26.06"/></g><g transform="translate(31.99,249.88) scale(0.4233,0.4150)" stroke-width="1.40"><use href="#g31" x="0"/><use href="#g30" x="20.06"/></g><g transform="translate(242.40,314.30) scale(0.5300,0.5000)" stroke-width="1.45"><use href="#g45" x="0"/></g><g transform="translate(254.26,318.20) scale(0.3550,0.3550)" stroke-width="1.45"><use href="#g3b3" x="0"/></g><g transform="translate(269.30,314.30) scale(0.5050,0.5000)" stroke-width="1.45"><use href="#g28" x="0"/><use href="#g47" x="14.06"/><use href="#g65" x="37.12"/><use href="#g56" x="56.19"/><use href="#g29" x="76.25"/></g><g transform="translate(19.10,221.30) rotate(-90) scale(0.5300,0.5000)" stroke-width="1.45"><use href="#g45" x="0"/></g><g transform="translate(11.40,207.90) rotate(-90) scale(0.3550,0.3550)" stroke-width="1.45"><use href="#g32" x="0"/></g><g transform="translate(23.50,209.80) rotate(-90) scale(0.3550,0.3550)" stroke-width="1.45"><use href="#g3b3" x="0"/></g><g transform="translate(19.10,192.68) rotate(-90) scale(0.5005,0.5000)" stroke-width="1.45"><use href="#g64" x="0"/><use href="#g4e" x="21.06"/></g><g transform="translate(23.50,169.40) rotate(-90) scale(0.3550,0.3550)" stroke-width="1.45"><use href="#g3b3" x="0"/></g><g transform="translate(19.10,160.47) rotate(-90) scale(0.5000,0.5000)" stroke-width="1.45"><use href="#g2044" x="0"/></g><g transform="translate(19.10,150.14) rotate(-90) scale(0.5200,0.5000)" stroke-width="1.45"><use href="#g64" x="0"/><use href="#g45" x="21.06"/></g><g transform="translate(23.50,129.10) rotate(-90) scale(0.3550,0.3550)" stroke-width="1.45"><use href="#g3b3" x="0"/></g><g transform="translate(19.10,112.08) rotate(-90) scale(0.5000,0.5000)" stroke-width="1.45"><use href="#g28" x="0"/><use href="#g47" x="14.06"/><use href="#g65" x="37.12"/><use href="#g56" x="56.19"/><use href="#g29" x="76.25"/></g><g transform="translate(91.10,40.20) scale(0.5000,0.5000)" stroke-width="1.45"><use href="#g6d" x="0"/></g><g transform="translate(107.63,44.70) scale(0.3550,0.3550)" stroke-width="1.45"><use href="#g44" x="0"/><use href="#g4d" x="22.06"/></g><g transform="translate(125.26,40.20) scale(0.5000,0.5000)" stroke-width="1.45"><use href="#g3d" x="0"/><use href="#g31" x="26.06"/><use href="#g30" x="46.12"/><use href="#g30" x="66.19"/><use href="#g47" x="104.75"/><use href="#g65" x="127.81"/><use href="#g56" x="146.88"/></g><g transform="translate(221.16,56.00) scale(0.4846,0.4550)" stroke-width="1.45"><use href="#g62" x="0"/></g><g transform="translate(231.76,56.00) scale(0.4846,0.4550)" stroke-width="1.45"><use href="#g62" x="0"/></g><path d="M230.6,43.7H240.8" stroke-width="1.6"/><g transform="translate(191.04,96.00) scale(0.4850,0.4850)" stroke-width="1.45"><use href="#g57" x="0"/></g><g transform="translate(202.71,88.60) scale(0.3298,0.3298)" stroke-width="1.45"><use href="#g2b" x="0"/></g><g transform="translate(211.14,96.00) scale(0.4850,0.4850)" stroke-width="1.45"><use href="#g57" x="0"/></g><g transform="translate(222.51,88.60) scale(0.3298,0.3298)" stroke-width="1.45"><use href="#g2d" x="0"/></g><g transform="translate(303.62,127.40) scale(0.4680,0.4500)" stroke-width="1.65"><use href="#g65" x="0"/></g><g transform="translate(322.02,127.40) scale(0.4680,0.4500)" stroke-width="1.65"><use href="#g65" x="0"/></g><g transform="translate(313.16,120.30) scale(0.2910,0.2910)" stroke-width="1.45"><use href="#g2b" x="0"/></g><g transform="translate(331.56,120.20) scale(0.2910,0.2910)" stroke-width="1.45"><use href="#g2d" x="0"/></g><g transform="translate(317.36,159.90) scale(0.4698,0.4050)" stroke-width="1.45"><use href="#g3bc" x="0"/></g><g transform="translate(336.96,159.90) scale(0.4698,0.4050)" stroke-width="1.45"><use href="#g3bc" x="0"/></g><g transform="translate(328.56,152.90) scale(0.2910,0.2910)" stroke-width="1.45"><use href="#g2b" x="0"/></g><g transform="translate(348.86,152.90) scale(0.2910,0.2910)" stroke-width="1.45"><use href="#g2d" x="0"/></g><g transform="translate(395.66,53.90) scale(0.4316,0.4850)" stroke-width="1.45"><use href="#g3c4" x="0"/></g><g transform="translate(413.96,53.90) scale(0.4316,0.4850)" stroke-width="1.45"><use href="#g3c4" x="0"/></g><g transform="translate(405.86,46.20) scale(0.2910,0.2910)" stroke-width="1.45"><use href="#g2b" x="0"/></g><g transform="translate(424.26,46.00) scale(0.2910,0.2910)" stroke-width="1.45"><use href="#g2d" x="0"/></g></g>
</svg>
</body></html>
